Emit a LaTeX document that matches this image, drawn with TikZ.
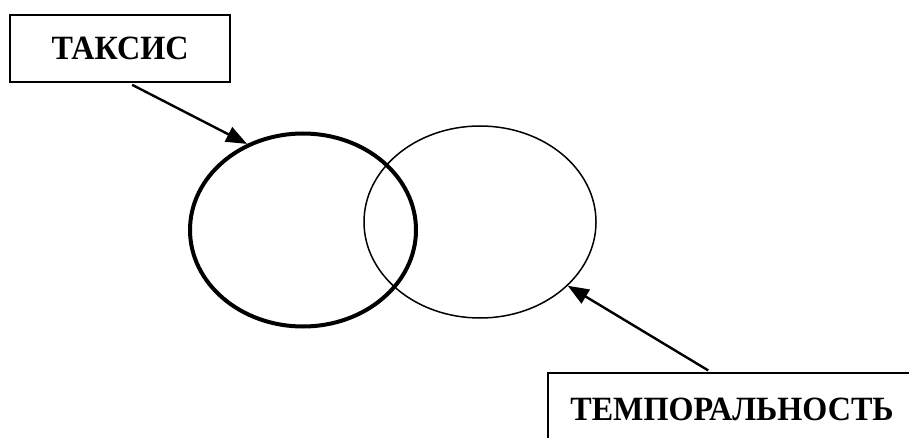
\documentclass[tikz,border=0pt]{standalone}
\usepackage{fontspec}
\setmainfont{Liberation Serif}[FakeStretch=0.945]
\usetikzlibrary{shapes.geometric,arrows.meta}
\tikzset{
  labelbox/.style={draw,line width=2pt,font=\fontsize{34}{40}\selectfont\bfseries,inner sep=0pt},
  setring/.style={draw,ellipse,inner sep=0pt},
  pointer/.style={line width=2.4pt,-{Triangle[length=21pt,width=16pt]}}
}
\begin{document}
\begin{tikzpicture}[x=1pt,y=-1pt]
      \useasboundingbox (0,0) rectangle (909,438);
      \clip (0,0) rectangle (909,438);
      \node[labelbox,minimum width=220pt,minimum height=67pt] (taxis) at (120,48.5) {ТАКСИС};
      \node[labelbox,minimum width=390pt,minimum height=72pt] (temp) at (743,409) {\hspace*{-22pt}ТЕМПОРАЛЬНОСТЬ};
      \node[setring,line width=4pt,minimum width=226pt,minimum height=193pt] (left) at (303,230) {};
      \node[setring,line width=1.5pt,minimum width=232pt,minimum height=192pt] (right) at (480,222) {};
      \begin{scope}[pointer]
        \draw[shorten <=4pt] (taxis.-76) to (left.123);
        \draw[shorten <=3pt] (temp.131) to (right.-36);
      \end{scope}
    \end{tikzpicture}
\end{document}
